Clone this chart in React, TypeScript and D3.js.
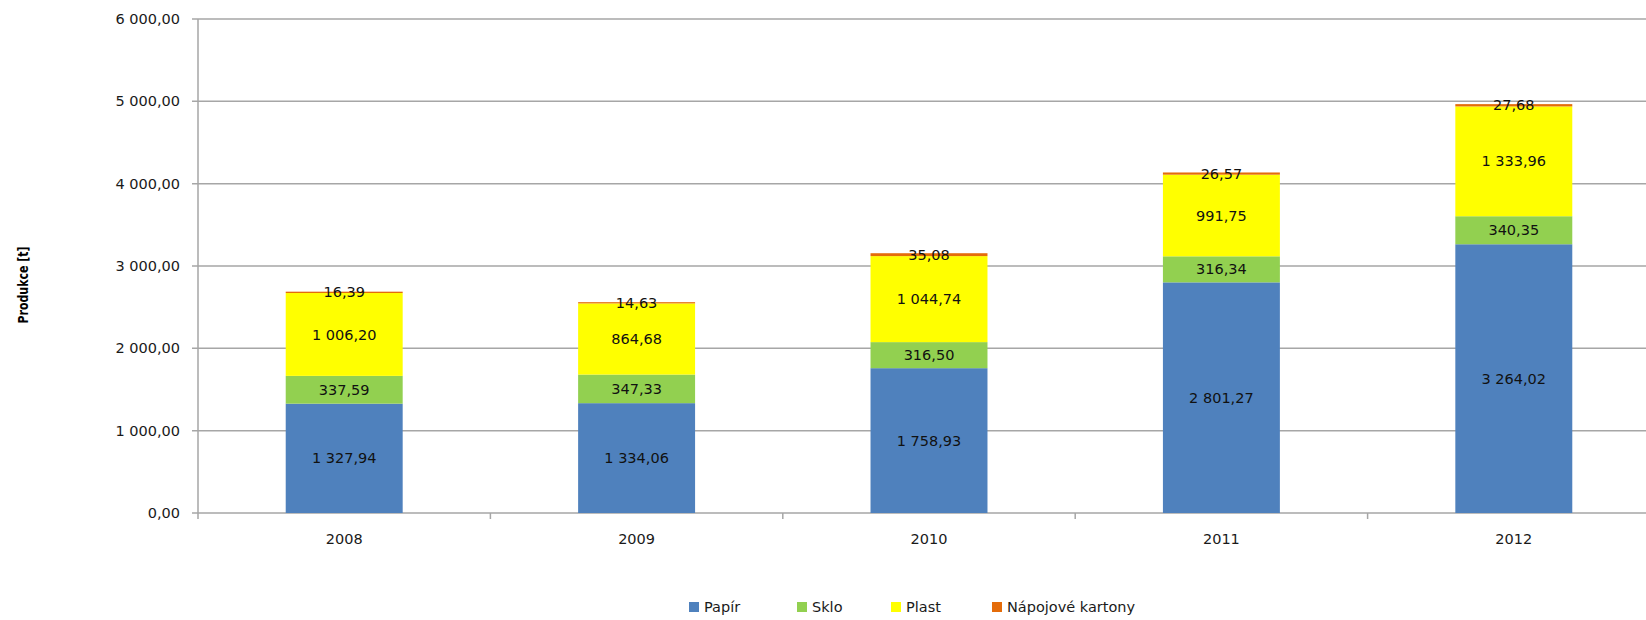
import React from "react";
import * as d3 from "d3";

const years = ["2008", "2009", "2010", "2011", "2012"];
const papir = [1327.94, 1334.06, 1758.93, 2801.27, 3264.02];
const sklo = [337.59, 347.33, 316.5, 316.34, 340.35];
const plast = [1006.2, 864.68, 1044.74, 991.75, 1333.96];
const kartony = [16.39, 14.63, 35.08, 26.57, 27.68];
const seriesNames = ["Papír", "Sklo", "Plast", "Nápojové kartony"];
const seriesColors = ["#4F81BD", "#92D050", "#FFFF00", "#E46C0A"];
const yTicks = [0, 1000, 2000, 3000, 4000, 5000, 6000];
const yTitle = "Produkce [t]";

const W = 1646;
const H = 620;
const left = 198;
const right = 1660;
const top = 19;
const bottom = 513;
const FONT = "'DejaVu Sans', Verdana, sans-serif";

function fmt(v: number): string {
  const s = v.toFixed(2);
  const [i, d] = s.split(".");
  const withSpaces = i.replace(/\B(?=(\d{3})+(?!\d))/g, " ");
  return withSpaces + "," + d;
}

export default function App() {
  const rows = years.map((y, i) => ({
    year: y,
    s0: papir[i],
    s1: sklo[i],
    s2: plast[i],
    s3: kartony[i],
  }));
  const keys = ["s0", "s1", "s2", "s3"];
  const stack = d3.stack<any>().keys(keys)(rows);
  const x = d3.scaleBand<string>().domain(years).range([left, right]).paddingInner(0).paddingOuter(0);
  const y = d3.scaleLinear().domain([0, 6000]).range([bottom, top]);
  const bw = x.bandwidth() * 0.4;
  const grid = "#a6a6a6";

  const legendX = [689, 797, 891, 992];
  const legendY = 607;

  return (
    <svg
      width={W}
      height={H}
      style={{ position: "absolute", left: 0, top: 0, display: "block", background: "#fff" }}
      fontFamily={FONT}
    >
      {yTicks.map((t) => (
        <g key={t}>
          <line x1={left - 6} x2={right} y1={y(t)} y2={y(t)} stroke={grid} strokeWidth={1.5} />
          <text x={180} y={y(t)} dy="0.35em" textAnchor="end" fontSize={14.5} fill="#1a1a1a">
            {fmt(t)}
          </text>
        </g>
      ))}
      <line x1={left} x2={left} y1={top} y2={bottom + 6} stroke={grid} strokeWidth={1.5} />
      {years.map((yr, i) =>
        i > 0 ? (
          <line key={yr} x1={x(yr)!} x2={x(yr)!} y1={bottom} y2={bottom + 6} stroke={grid} strokeWidth={1.5} />
        ) : null
      )}
      {stack.map((layer, si) => (
        <g key={si}>
          {layer.map((d, i) => {
            const cx = x(years[i])! + x.bandwidth() / 2;
            return (
              <rect
                key={i}
                x={cx - bw / 2}
                width={bw}
                y={y(d[1])}
                height={y(d[0]) - y(d[1])}
                fill={seriesColors[si]}
              />
            );
          })}
        </g>
      ))}
      {stack.map((layer, si) => (
        <g key={"l" + si}>
          {layer.map((d, i) => {
            const cx = x(years[i])! + x.bandwidth() / 2;
            const val = d[1] - d[0];
            return (
              <text
                key={i}
                x={cx}
                y={(y(d[0]) + y(d[1])) / 2}
                dy="0.35em"
                textAnchor="middle"
                fontSize={14.5}
                fill="#111"
              >
                {fmt(val)}
              </text>
            );
          })}
        </g>
      ))}
      {years.map((yr) => (
        <text
          key={yr}
          x={x(yr)! + x.bandwidth() / 2}
          y={539}
          dy="0.35em"
          textAnchor="middle"
          fontSize={14.5}
          fill="#1a1a1a"
        >
          {yr}
        </text>
      ))}
      <text
        transform={`translate(28,285) rotate(-90)`}
        textAnchor="middle"
        fontSize={14}
        fontWeight="bold"
        fill="#000"
        textLength={77}
        lengthAdjust="spacingAndGlyphs"
      >
        {yTitle}
      </text>
      {seriesNames.map((n, i) => (
        <g key={n}>
          <rect x={legendX[i]} y={legendY - 5} width={10} height={10} fill={seriesColors[i]} />
          <text x={legendX[i] + 15} y={legendY} dy="0.35em" fontSize={14.5} fill="#1a1a1a">
            {n}
          </text>
        </g>
      ))}
    </svg>
  );
}
